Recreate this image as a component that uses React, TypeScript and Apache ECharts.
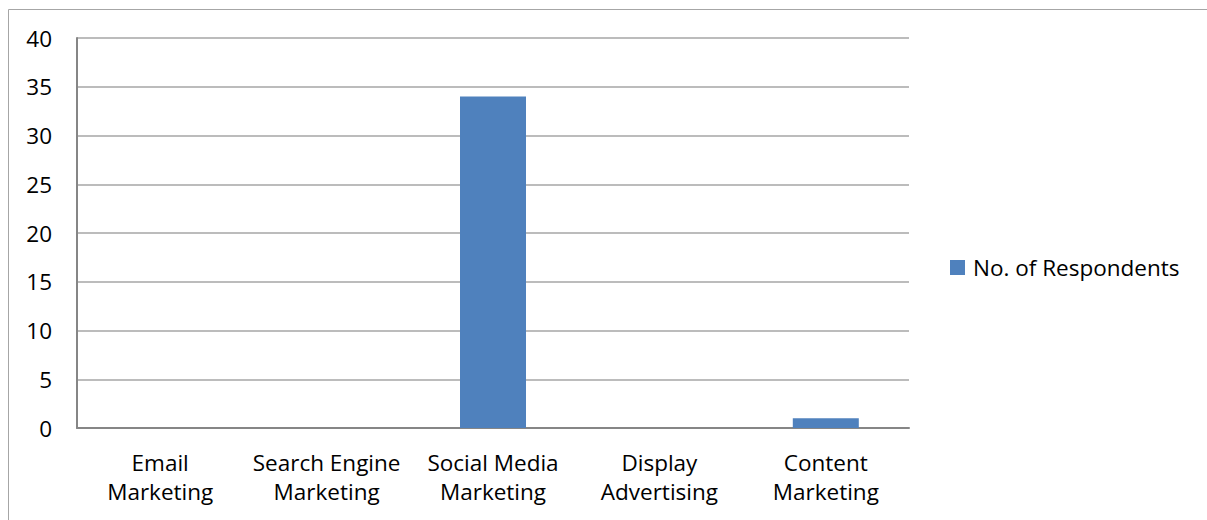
import React, { useEffect, useRef } from "react";
import * as echarts from "echarts";

const categories = [
  "Email\nMarketing",
  "Search Engine\nMarketing",
  "Social Media\nMarketing",
  "Display\nAdvertising",
  "Content\nMarketing",
];
const respondents = [0, 0, 34, 0, 1];
const seriesName = "No. of Respondents";
const yTicks = { min: 0, max: 40, interval: 5 };

const FONT = "'Open Sans', 'Noto Sans', sans-serif";

export default function App() {
  const ref = useRef<HTMLDivElement>(null);
  useEffect(() => {
    if (!ref.current) return;
    const chart = echarts.init(ref.current, null, { renderer: "svg" });
    chart.setOption({
      animation: false,
      textStyle: { fontFamily: FONT },
      graphic: [
        {
          type: "rect",
          shape: { x: 8.5, y: 9.5, width: 1400, height: 700 },
          style: { fill: "none", stroke: "#a6a6a6", lineWidth: 1 },
          silent: true,
        },
      ],
      grid: { left: 77, top: 38, right: 298, bottom: 92, containLabel: false },
      legend: {
        data: [seriesName],
        left: 950,
        top: 256,
        padding: 0,
        orient: "vertical",
        itemWidth: 15,
        itemHeight: 15,
        itemGap: 8,
        icon: "rect",
        textStyle: { fontSize: 22.5, color: "#000", fontFamily: FONT, padding: [0, 0, 0, 3] },
      },
      xAxis: {
        type: "category",
        data: categories,
        axisLine: { show: true, lineStyle: { color: "#868686", width: 2 } },
        axisTick: { show: false },
        axisLabel: {
          color: "#000",
          fontSize: 22.5,
          lineHeight: 29,
          margin: 20,
          interval: 0,
          fontFamily: FONT,
        },
      },
      yAxis: {
        type: "value",
        min: yTicks.min,
        max: yTicks.max,
        interval: yTicks.interval,
        axisLine: { show: true, lineStyle: { color: "#868686", width: 2 } },
        axisTick: { show: false },
        splitLine: { lineStyle: { color: "#a6a6a6", width: 1.5 } },
        axisLabel: { color: "#000", fontSize: 22.5, margin: 25, fontFamily: FONT },
      },
      series: [
        {
          name: seriesName,
          type: "bar",
          data: respondents,
          barWidth: 66,
          itemStyle: { color: "#4f81bd" },
        },
      ],
    });
    return () => chart.dispose();
  }, []);
  return (
    <div
      ref={ref}
      style={{ position: "absolute", left: 0, top: 0, width: 1207, height: 520, background: "#fff" }}
    />
  );
}
